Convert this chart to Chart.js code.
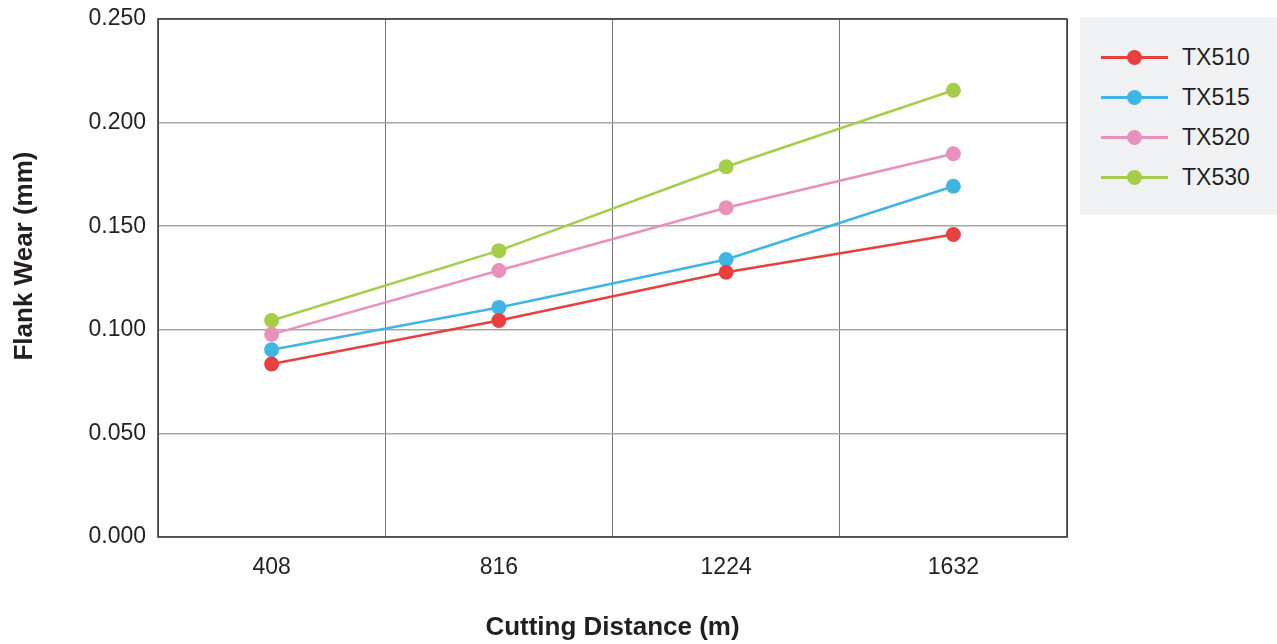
<!DOCTYPE html>
<html lang="en">
<head>
    <meta charset="UTF-8">
    <title>Flank Wear vs Cutting Distance</title>
    <script src="https://cdn.jsdelivr.net/npm/chart.js"></script>
    <style>
        html, body { margin: 0; padding: 0; background: #fff; }
        #wrap { position: relative; width: 1277px; height: 644px; }
        #legend {
            position: absolute; left: 1080px; top: 17px; width: 197px; height: 198px;
            background: #f0f1f3; box-sizing: border-box; padding-top: 40px;
            font-family: "Liberation Sans", Arial, sans-serif; font-size: 23px; color: #231f20;
        }
        .row { position: relative; height: 40px; }
        .row .ln { position: absolute; left: 21px; top: -1px; width: 67px; height: 2.5px; }
        .row .dot { position: absolute; left: 47px; top: -7.5px; width: 15px; height: 15px; border-radius: 50%; }
        .row .txt { position: absolute; left: 102px; top: -14px; line-height: 28px; }
    </style>
</head>
<body>
    <div id="wrap">
        <canvas id="chartCanvas" width="1277" height="644"></canvas>
        <div id="legend"></div>
    </div>
    <script>
        // data
        const distances = ['408', '816', '1224', '1632'];
        const tx510 = [0.0835, 0.1045, 0.1278, 0.1460];
        const tx515 = [0.0904, 0.1108, 0.1339, 0.1693];
        const tx520 = [0.0978, 0.1286, 0.1589, 0.1850];
        const tx530 = [0.1045, 0.1382, 0.1787, 0.2156];

        const seriesNames = ['TX510', 'TX515', 'TX520', 'TX530'];
        const seriesColors = ['#e8403f', '#41b4e6', '#e891bd', '#a5cd4a'];
        const seriesData = [tx510, tx515, tx520, tx530];

        const fontFamily = '"Liberation Sans", Arial, sans-serif';
        const textColor = '#231f20';

        // frame around the plot + rotated y title
        const framePlugin = {
            id: 'frame',
            afterDraw(chart) {
                const { ctx, chartArea: a } = chart;
                ctx.save();
                ctx.strokeStyle = '#333';
                ctx.lineWidth = 1.5;
                ctx.strokeRect(a.left, a.top, a.right - a.left, a.bottom - a.top);

                ctx.translate(25, (a.top + a.bottom) / 2 - 22);
                ctx.rotate(-Math.PI / 2);
                ctx.fillStyle = textColor;
                ctx.font = 'bold 26px ' + fontFamily;
                ctx.textAlign = 'center';
                ctx.textBaseline = 'middle';
                ctx.fillText('Flank Wear (mm)', 0, 0);
                ctx.restore();
            }
        };

        const ctx = document.getElementById('chartCanvas').getContext('2d');
        const chart = new Chart(ctx, {
            type: 'line',
            data: {
                labels: distances,
                datasets: seriesNames.map((name, i) => ({
                    label: name,
                    data: seriesData[i],
                    borderColor: seriesColors[i],
                    backgroundColor: seriesColors[i],
                    borderWidth: 2.5,
                    pointRadius: 7.5,
                    pointBorderWidth: 0,
                    tension: 0,
                    fill: false
                }))
            },
            options: {
                responsive: false,
                animation: false,
                layout: { padding: { top: 19, right: 210, left: 0, bottom: 0 } },
                plugins: {
                    legend: { display: false },
                    tooltip: { enabled: false }
                },
                scales: {
                    x: {
                        offset: true,
                        afterFit(scale) { scale.height = 107; scale.paddingLeft = 0; scale.paddingRight = 0; },
                        grid: { offset: true, color: '#777', lineWidth: 1, drawTicks: false },
                        border: { display: false },
                        ticks: { color: textColor, padding: 17, font: { family: fontFamily, size: 23 } },
                        title: {
                            display: true,
                            text: 'Cutting Distance (m)',
                            color: textColor,
                            padding: { top: 0, bottom: 1 },
                            font: { family: fontFamily, size: 26, weight: 'bold' }
                        }
                    },
                    y: {
                        min: 0,
                        max: 0.25,
                        afterFit(scale) { scale.width = 158; scale.paddingTop = 0; scale.paddingBottom = 0; },
                        grid: { color: '#a8a8a8', lineWidth: 1.5, drawTicks: false },
                        border: { display: false },
                        ticks: {
                            stepSize: 0.05,
                            color: textColor,
                            padding: 12,
                            font: { family: fontFamily, size: 23 },
                            callback: v => v.toFixed(3)
                        }
                    }
                }
            },
            plugins: [framePlugin]
        });

        // legend box on the right
        const legend = document.getElementById('legend');
        chart.data.datasets.forEach(ds => {
            const row = document.createElement('div');
            row.className = 'row';
            row.innerHTML = '<span class="ln"></span><span class="dot"></span><span class="txt"></span>';
            row.querySelector('.ln').style.background = ds.borderColor;
            row.querySelector('.dot').style.background = ds.borderColor;
            row.querySelector('.txt').textContent = ds.label;
            legend.appendChild(row);
        });
    </script>
</body>
</html>
